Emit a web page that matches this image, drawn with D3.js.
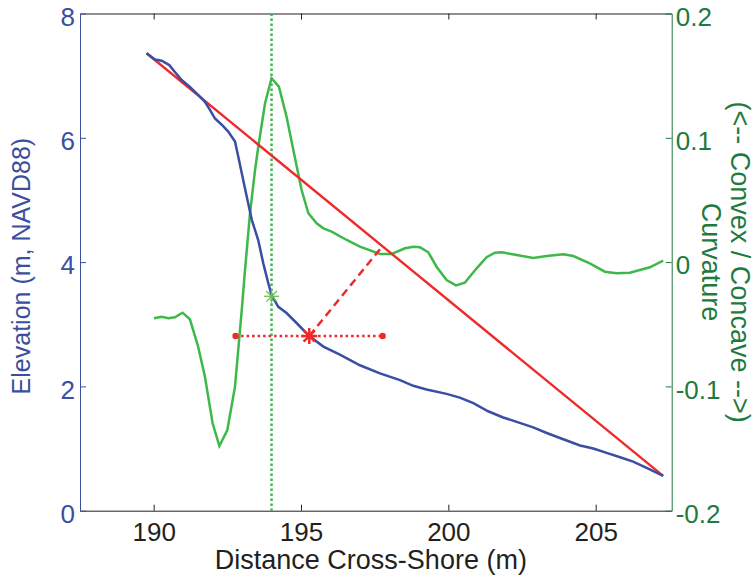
<!DOCTYPE html>
<head>
  <meta charset="utf-8">
  <script src="https://d3js.org/d3.v7.min.js"></script>
  <style>
    body { margin:0; background:#fff; }
    text { font-family: "Liberation Sans", Arial, Helvetica, sans-serif; }
  </style>
</head>

<body>
  <script>
    var width = 755;
    var height = 578;

    // elevation profile (left axis)
    var profX = [189.76,190.04,190.27,190.53,190.72,190.95,191.23,191.51,191.74,191.91,192.08,192.31,192.53,192.76,192.87,192.99,193.16,193.33,193.55,193.72,193.89,194.00,194.23,194.51,194.85,195.28,195.76,196.32,197.00,197.68,198.36,198.81,199.26,199.94,200.39,200.85,201.35,201.86,202.32,202.88,203.34,203.90,204.47,204.92,205.37,205.83,206.27,206.73,207.29];
    var profZ = [7.36,7.26,7.24,7.17,7.06,6.93,6.82,6.69,6.58,6.45,6.31,6.21,6.10,5.94,5.70,5.43,5.05,4.68,4.35,3.98,3.66,3.47,3.28,3.18,3.02,2.81,2.64,2.51,2.34,2.21,2.10,2.01,1.95,1.88,1.82,1.73,1.60,1.50,1.43,1.34,1.25,1.15,1.05,1.00,0.93,0.86,0.79,0.69,0.56];

    // curvature (right axis)
    var curvX = [190.01,190.27,190.50,190.72,190.98,191.23,191.51,191.74,192.00,192.23,192.50,192.76,192.87,192.99,193.10,193.27,193.44,193.55,193.78,194.00,194.25,194.51,194.74,195.02,195.25,195.53,195.76,196.04,196.55,197.00,197.68,198.08,198.53,198.81,199.04,199.32,199.60,199.94,200.26,200.56,200.96,201.30,201.58,201.81,202.32,202.88,203.34,203.90,204.24,204.80,205.31,205.71,206.16,206.50,206.84,207.29];
    var curvC = [-0.0452,-0.0439,-0.0452,-0.0444,-0.0407,-0.0460,-0.0681,-0.0922,-0.1297,-0.1479,-0.1351,-0.1002,-0.0707,-0.0385,-0.0064,0.0393,0.0741,0.0928,0.1278,0.1479,0.1411,0.1170,0.0902,0.0580,0.0393,0.0312,0.0272,0.0245,0.0178,0.0124,0.0065,0.0065,0.0111,0.0124,0.0119,0.0079,-0.0037,-0.0144,-0.0187,-0.0166,-0.0050,0.0039,0.0076,0.0079,0.0057,0.0033,0.0049,0.0063,0.0049,-0.0010,-0.0077,-0.0090,-0.0085,-0.0064,-0.0042,0.0011];

    // straight shoreface line, inflection point and offset markers
    var chordX = [189.76, 207.29];
    var chordZ = [7.36, 0.56];
    var inflX = 194.0, inflZ = 3.45;
    var starX = 195.28, starZ = 2.81;
    var spanX = [192.78, 197.77];
    var perpX = [195.28, 197.77];
    var perpZ = [2.81, 4.26];

    var xTicks = [190, 195, 200, 205];
    var yTicks = [0, 2, 4, 6, 8];
    var y2Ticks = [-0.2, -0.1, 0, 0.1, 0.2];

    var blue = "#3a4ea3", red = "#ee2a2a", green = "#3db84a";
    var blueAxis = "#3b4ea0", greenAxis = "#1f7a3e";

    var pL = 80, pT = 13.5, pR = 671.7, pB = 510.7;

    var x = d3.scaleLinear().domain([187.5, 207.58]).range([pL, pR]);
    var y = d3.scaleLinear().domain([0, 8]).range([pB, pT]);
    var y2 = d3.scaleLinear().domain([-0.2, 0.2]).range([pB, pT]);

    var svg = d3.select("body")
      .append("svg")
      .attr("width", width)
      .attr("height", height);

    // axes
    var ax = svg.append("g").attr("transform", "translate(0," + pB + ")")
      .call(d3.axisBottom(x).tickValues(xTicks).tickSize(-6).tickSizeOuter(0).tickPadding(12).tickFormat(d3.format("d")));
    ax.select(".domain").attr("stroke", "#231f20");
    ax.selectAll("line").attr("stroke", "#231f20");
    ax.selectAll("text").attr("fill", "#231f20").style("font-size", "26px");

    var axTop = svg.append("g").attr("transform", "translate(0," + pT + ")")
      .call(d3.axisTop(x).tickValues(xTicks).tickSize(-6).tickSizeOuter(0).tickFormat(""));
    axTop.select(".domain").attr("stroke", "#231f20");
    axTop.selectAll("line").attr("stroke", "#231f20");

    var ay = svg.append("g").attr("transform", "translate(" + pL + ",0)")
      .call(d3.axisLeft(y).tickValues(yTicks).tickSize(-6).tickSizeOuter(0).tickPadding(5).tickFormat(d3.format("d")));
    ay.select(".domain").attr("stroke", blueAxis);
    ay.selectAll("line").attr("stroke", blueAxis);
    ay.selectAll("text").attr("fill", blueAxis).attr("dy", "0.45em").style("font-size", "26px");

    var ay2 = svg.append("g").attr("transform", "translate(" + pR + ",0)")
      .call(d3.axisRight(y2).tickValues(y2Ticks).tickSize(-6).tickSizeOuter(0).tickPadding(4)
        .tickFormat(function(d) { return d === 0 ? "0" : d3.format(".1f")(d).replace("\u2212", "-"); }));
    ay2.select(".domain").attr("stroke", greenAxis);
    ay2.selectAll("line").attr("stroke", greenAxis);
    ay2.selectAll("text").attr("fill", greenAxis).attr("dy", "0.45em").style("font-size", "26px");

    // vertical dotted line at the inflection point
    svg.append("line")
      .attr("x1", x(inflX)).attr("x2", x(inflX))
      .attr("y1", pT).attr("y2", pB)
      .attr("stroke", green).attr("stroke-width", 2.5)
      .attr("stroke-dasharray", "2.5,2.5");

    var lineZ = d3.line().x(function(d) { return x(d[0]); }).y(function(d) { return y(d[1]); });
    var lineC = d3.line().x(function(d) { return x(d[0]); }).y(function(d) { return y2(d[1]); });

    svg.append("path")
      .attr("d", lineC(d3.zip(curvX, curvC)))
      .attr("fill", "none").attr("stroke", green).attr("stroke-width", 2.5);

    svg.append("path")
      .attr("d", lineZ(d3.zip(chordX, chordZ)))
      .attr("fill", "none").attr("stroke", red).attr("stroke-width", 2.4);

    svg.append("path")
      .attr("d", lineZ(d3.zip(profX, profZ)))
      .attr("fill", "none").attr("stroke", blue).attr("stroke-width", 2.5);

    // horizontal dotted span with end dots
    svg.append("line")
      .attr("x1", x(spanX[0])).attr("x2", x(spanX[1]))
      .attr("y1", y(starZ)).attr("y2", y(starZ))
      .attr("stroke", red).attr("stroke-width", 2.5)
      .attr("stroke-dasharray", "2.5,3");
    svg.selectAll(".enddot")
      .data(spanX)
      .enter().append("circle")
      .attr("cx", function(d) { return x(d); })
      .attr("cy", y(starZ))
      .attr("r", 3.2)
      .attr("fill", red);

    // dashed perpendicular to the straight line
    svg.append("path")
      .attr("d", lineZ(d3.zip(perpX, perpZ)))
      .attr("fill", "none").attr("stroke", red).attr("stroke-width", 2.5)
      .attr("stroke-dasharray", "8,5");

    function asterisk(cx, cy, r, color, w) {
      var g = svg.append("g").attr("transform", "translate(" + cx + "," + cy + ")");
      var a = r * 0.7071;
      [[0, -r, 0, r], [-r, 0, r, 0], [-a, -a, a, a], [-a, a, a, -a]].forEach(function(s) {
        g.append("line")
          .attr("x1", s[0]).attr("y1", s[1]).attr("x2", s[2]).attr("y2", s[3])
          .attr("stroke", color).attr("stroke-width", w);
      });
    }
    asterisk(x(inflX), y(inflZ), 7.5, "#6cc24a", 1.3);
    asterisk(x(starX), y(starZ), 8, red, 2.5);

    // axis titles
    svg.append("text")
      .attr("transform", "translate(" + ((pL + pR) / 2 - 5) + ",569)")
      .attr("text-anchor", "middle")
      .attr("fill", "#231f20")
      .style("font-size", "27px")
      .text("Distance Cross-Shore (m)");

    svg.append("text")
      .attr("transform", "translate(30," + ((pT + pB) / 2 + 4) + ") rotate(-90)")
      .attr("text-anchor", "middle")
      .attr("fill", blueAxis)
      .style("font-size", "25px")
      .text("Elevation (m, NAVD88)");

    svg.append("text")
      .attr("transform", "translate(702," + ((pT + pB) / 2) + ") rotate(90)")
      .attr("text-anchor", "middle")
      .attr("fill", greenAxis)
      .style("font-size", "27px")
      .text("Curvature");

    svg.append("text")
      .attr("transform", "translate(731," + ((pT + pB) / 2) + ") rotate(90)")
      .attr("text-anchor", "middle")
      .attr("fill", greenAxis)
      .style("font-size", "27px")
      .text("(<-- Convex / Concave -->)");
  </script>
</body>
